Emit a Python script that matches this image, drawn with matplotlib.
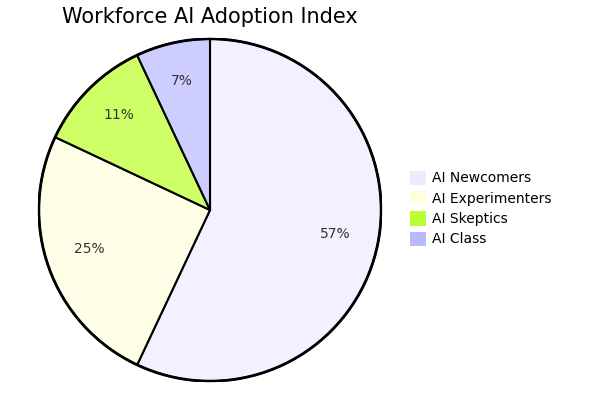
import matplotlib.pyplot as plt
from matplotlib.patches import Patch

labels = ['AI Newcomers', 'AI Experimenters', 'AI Skeptics', 'AI Class']
values = [57, 25, 11, 7]
legend_colors = ['#ECECFF', '#FFFFDE', '#B9FF33', '#B8B8FF']
slice_colors = ['#F1F1FF', '#FFFFE8', '#CEFF66', '#CDCDFF']

W, H = 599, 419
fig = plt.figure(figsize=(W / 100, H / 100), dpi=100)
fig.set_facecolor('white')

cx, cy, r = 210, 210, 172
ax = fig.add_axes([(cx - r) / W, (H - cy - r) / H, 2 * r / W, 2 * r / H])

wedges, texts = ax.pie(values, colors=slice_colors, startangle=90, counterclock=False,
                       labels=[f'{v}%' for v in values], labeldistance=0.75,
                       wedgeprops=dict(edgecolor='black', linewidth=1.5),
                       textprops=dict(fontsize=10, color='#333333'), radius=1)
for t in texts:
    t.set_horizontalalignment('center')
    t.set_verticalalignment('baseline')
ax.add_patch(plt.Circle((0, 0), 1, fill=False, edgecolor='black', linewidth=2))
ax.set_xlim(-1.005, 1.005)
ax.set_ylim(-1.005, 1.005)
ax.axis('off')

fig.text(cx / W, 1 - 17 / H, 'Workforce AI Adoption Index', ha='center', va='center',
         fontsize=15, color='black')

handles = [Patch(facecolor=c, edgecolor='none') for c in legend_colors]
fig.legend(handles, labels, loc='upper left', bbox_to_anchor=(404 / W, 1 - 165 / H),
           frameon=False, fontsize=10, handlelength=1.2, handleheight=1.2,
           handletextpad=0.4, labelspacing=0.4, borderaxespad=0)

fig.savefig('out.png', dpi=100)
